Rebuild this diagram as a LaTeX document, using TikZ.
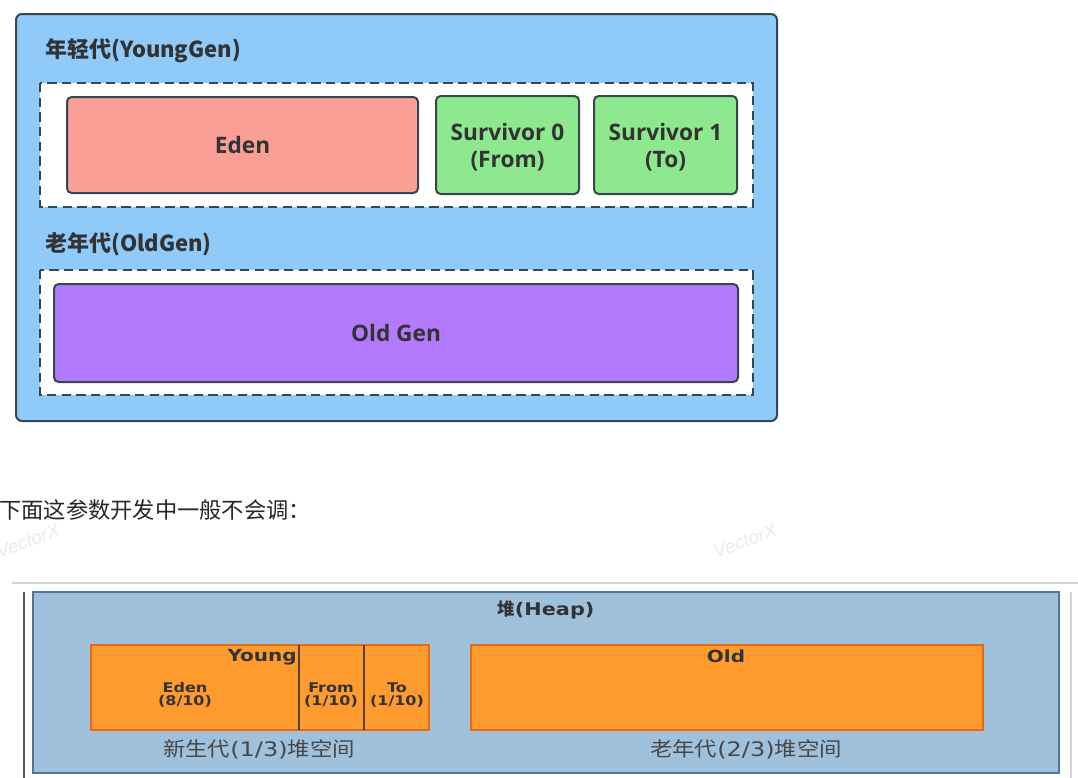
\documentclass[tikz,border=0pt]{standalone}
\usepackage{fontspec}
\setmainfont{Open Sans}
\newfontfamily\cjk{Noto Sans CJK SC}
\newfontfamily\cjkwide[FakeStretch=1.12]{Noto Sans CJK SC}
\newfontfamily\vfont[FakeStretch=1.2]{DejaVu Sans}
\newfontfamily\wmfont{Liberation Sans}
\definecolor{topblue}{HTML}{90CAF9}
\definecolor{edge}{HTML}{37474F}
\definecolor{edenc}{HTML}{FA9F95}
\definecolor{survc}{HTML}{8EE88D}
\definecolor{oldc}{HTML}{B37AFD}
\definecolor{txt}{HTML}{333333}
\definecolor{heapc}{HTML}{A0C1DB}
\definecolor{heape}{HTML}{50749A}
\definecolor{orangec}{HTML}{FF9A2E}
\definecolor{oranged}{HTML}{E86A10}
\definecolor{divc}{HTML}{5A4020}
\definecolor{rulec}{HTML}{D4D4D4}
\definecolor{wmc}{HTML}{EBEBEB}
\tikzset{
  outerbox/.style={fill=topblue,draw=edge,line width=1.5pt,rounded corners=4.5pt},
  dashbox/.style={fill=white,draw=edge,line width=1.6pt,dash pattern=on 7pt off 4pt},
  memblock/.style={draw=edge,line width=1.5pt,rounded corners=3.5pt},
  toplbl/.style={text=txt,font=\fontsize{17}{20}\selectfont\bfseries,align=center,inner sep=0pt},
  toptitle/.style={text=txt,font=\cjk\fontsize{16.5}{19}\selectfont\bfseries,anchor=west,inner sep=0pt},
  orangebox/.style={fill=orangec,draw=oranged,line width=1.3pt},
  divline/.style={draw=divc,line width=1.8pt},
  smalllbl/.style={text=txt,font=\vfont\fontsize{10}{10}\selectfont\bfseries,align=center,inner sep=0pt},
  biglbl/.style={text=txt,font=\vfont\fontsize{12.5}{14}\selectfont\bfseries,inner sep=0pt},
  cjklbl/.style={text=txt!90,font=\cjkwide\fontsize{15}{17}\selectfont,inner sep=0pt},
  wm/.style={text=wmc,font=\wmfont\itshape\fontsize{14}{16}\selectfont,rotate=20,inner sep=0pt}
}
\begin{document}
\begin{tikzpicture}[x=0.75pt,y=-0.75pt]
\fill[white] (0,0) rectangle (1078,778);
\useasboundingbox (0,0) rectangle (1078,778);
% ---------- top diagram ----------
\draw[outerbox] (16,14) rectangle (777,421);
\node[toptitle] (yg) at (45,51) {年轻代(YoungGen)};
\draw[dashbox] (40,83) rectangle (753,207);
\draw[memblock,fill=edenc] (67,97) rectangle (418,193);
\node[toplbl] (eden) at (242.5,145) {Eden};
\draw[memblock,fill=survc] (436,96) rectangle (579,194);
\node[toplbl] (s0) at (507.5,147) {Survivor 0\\(From)};
\draw[memblock,fill=survc] (594,96) rectangle (737,194);
\node[toplbl] (s1) at (665.5,147) {Survivor 1\\(To)};
\node[toptitle] (og) at (45,244) {老年代(OldGen)};
\draw[dashbox] (40,270) rectangle (753,395);
\draw[memblock,fill=oldc] (54,284) rectangle (738,382);
\node[toplbl] (old) at (396,333) {Old Gen};
% ---------- note ----------
\node[anchor=west,inner sep=0pt,text=black!85,font=\cjk\fontsize{16.7}{18}\selectfont] (note) at (-1,510) {下面这参数开发中一般不会调：};
\node[wm] (wm1) at (28,541) {VectorX};
\node[wm] (wm2) at (745,541) {VectorX};
\draw[rulec,line width=1.5pt] (12,583) -- (1078,583);
% ---------- bottom diagram ----------
\draw[black!65,line width=1.5pt] (24,592) -- (24,778);
\draw[rulec,line width=1.5pt] (1071,592) -- (1071,778);
\draw[fill=heapc,draw=heape,line width=1.2pt] (33,592) rectangle (1059,773);
\node[text=txt,inner sep=0pt,font=\fontsize{13}{15}\selectfont] (heap) at (546,610) {{\cjk\bfseries 堆}{\vfont\bfseries (Heap)}};
\draw[orangebox] (91,645) rectangle (429,730);
\draw[divline] (299,645) -- (299,730);
\draw[divline] (364,645) -- (364,730);
\node[biglbl,anchor=east] (young) at (297,657) {Young};
\node[smalllbl] (beden) at (185,695) {Eden\\(8/10)};
\node[smalllbl] (bfrom) at (331,695) {From\\(1/10)};
\node[smalllbl] (bto) at (397,695) {To\\(1/10)};
\node[cjklbl] (ylbl) at (259,749) {新生代{\vfont(1/3)}堆空间};
\draw[orangebox] (471,645) rectangle (983,730);
\node[biglbl] (bold) at (726,656) {Old};
\node[cjklbl] (olbl) at (746,749) {老年代{\vfont(2/3)}堆空间};
\end{tikzpicture}
\end{document}
